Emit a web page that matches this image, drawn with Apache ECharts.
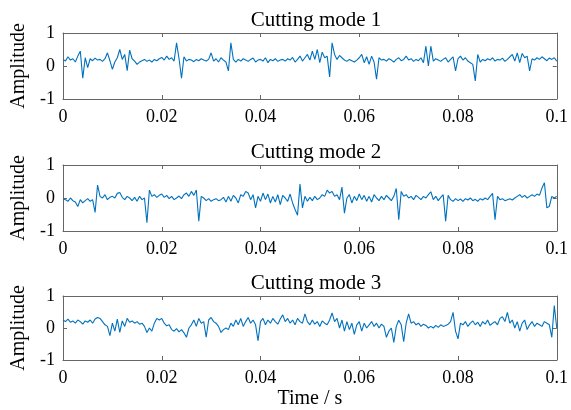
<!DOCTYPE html>
<html>
<head>
<meta charset="utf-8">
<script src="https://cdn.jsdelivr.net/npm/echarts@6/dist/echarts.min.js"></script>
<style>
  html, body { margin: 0; padding: 0; background: #fff; }
  #chart { width: 571px; height: 410px; }
</style>
</head>
<body>
<div id="chart"></div>
<script>
// sampling rate of the signals (Hz), 0.1 s per record
const fs = 2000;

const titles = ['Cutting mode 1', 'Cutting mode 2', 'Cutting mode 3'];
const xTicks = [0, 0.02, 0.04, 0.06, 0.08, 0.1];
const yTicks = [-1, 0, 1];

const mode1 = [
  0.2, 0.15, 0.28, 0.18, 0.22, 0.12, 0.3, 0.45, -0.37, 0.25,
  -0.05, 0.22, 0.16, 0.24, 0.18, 0.2, 0.14, 0.22, 0.4, 0.16,
  -0.1, 0.12, 0.25, 0.5, 0.2, 0.35, -0.14, 0.48, 0.22, 0.15,
  0.05, 0.12, 0.16, 0.2, 0.14, 0.18, 0.12, 0.2, 0.16, 0.22,
  0.26, 0.18, 0.3, 0.2, 0.25, 0.15, 0.7, 0.22, -0.37, 0.28,
  0.15, 0.2, 0.18, 0.13, 0.2, 0.16, 0.22, 0.18, 0.15, 0.2,
  0.4, 0.15, 0.22, 0.12, 0.25, 0.18, 0.12, -0.15, 0.7, 0.2,
  0.12, 0.2, 0.15, 0.22, 0.18, 0.14, 0.2, 0.24, 0.12, 0.18,
  0.2, 0.15, 0.25, 0.1, 0.2, 0.16, 0.22, 0.14, 0.18, 0.2,
  0.15, 0.22, 0.18, 0.26, 0.12, 0.2, 0.3, 0.15, 0.25, 0.35,
  0.18, 0.45, 0.2, 0.5, 0.1, 0.42, 0.25, 0.3, -0.33, 0.7,
  0.35, 0.2, 0.32, 0.25, 0.18, 0.14, 0.2, 0.16, 0.12, 0.18,
  0.25, 0.35, 0.1, 0.28, 0.05, 0.3, 0.12, -0.4, 0.25, 0.18,
  0.2, 0.15, 0.22, 0.18, 0.12, 0.2, 0.25, 0.16, 0.2, 0.3,
  0.18, 0.22, 0.14, 0.2, 0.16, 0.25, 0.1, 0.6, 0.0, 0.6,
  0.15, 0.22, 0.18, 0.14, 0.2, 0.25, 0.12, 0.2, 0.28, -0.15,
  0.22, 0.3, 0.18, 0.25, 0.15, 0.1, 0.05, -0.45, 0.35, 0.12,
  0.2, 0.16, 0.22, 0.18, 0.25, 0.15, 0.2, 0.18, 0.24, 0.14,
  0.2, 0.28, 0.35, 0.15, 0.4, 0.1, 0.38, 0.25, 0.3, -0.15,
  0.22, 0.18, 0.25, 0.2, 0.28, 0.22, 0.16, 0.24, 0.2, 0.25,
  0.15
];

const mode2 = [
  -0.02, -0.05, -0.1, 0.0, -0.08, -0.12, -0.26, -0.05, -0.15, -0.08,
  -0.02, -0.1, -0.05, -0.44, 0.39, 0.05, 0.0, 0.1, -0.05, 0.02,
  0.05, 0.0, 0.14, 0.17, 0.02, -0.05, 0.05, 0.0, -0.08, 0.02,
  -0.1, 0.05, -0.05, 0.0, -0.75, 0.24, 0.05, 0.1, 0.02, 0.08,
  0.12, 0.02, 0.08, -0.02, 0.05, -0.05, 0.0, 0.06, -0.02, 0.1,
  0.15, 0.05, 0.2, 0.08, 0.24, -0.7, 0.05, 0.0, -0.08, -0.02,
  -0.1, -0.05, -0.02, -0.08, -0.05, 0.02, -0.12, 0.05, -0.1, 0.08,
  0.0, -0.15, 0.1, 0.05, 0.2, 0.15, -0.05, 0.1, -0.3, 0.05,
  -0.1, 0.15, -0.05, 0.12, -0.15, 0.05, -0.12, 0.1, -0.2, 0.08,
  0.0, -0.1, 0.12, -0.15, -0.35, -0.52, 0.42, -0.3, 0.05, -0.1,
  0.02, -0.08, 0.05, -0.05, 0.0, 0.1, 0.05, 0.24, 0.15, 0.2,
  0.05, 0.1, -0.05, 0.33, -0.46, 0.0, 0.1, -0.15, 0.05, -0.08,
  0.12, -0.05, 0.08, -0.1, 0.05, -0.12, 0.1, 0.0, -0.08, 0.05,
  -0.05, 0.08, 0.0, -0.08, 0.05, 0.29, -0.66, 0.2, 0.05, 0.1,
  0.0, 0.05, -0.05, 0.08, 0.02, -0.05, 0.05, 0.0, 0.1, 0.19,
  -0.05, 0.05, -0.08, 0.02, 0.1, -0.7, 0.08, -0.05, -0.1, -0.02,
  -0.08, -0.03, -0.1, -0.02, -0.06, 0.0, -0.08, -0.04, -0.1, -0.02,
  -0.06, 0.0, -0.05, 0.05, 0.14, -0.66, 0.05, -0.05, -0.02, -0.08,
  -0.05, -0.02, -0.06, 0.0, 0.05, 0.1, 0.02, 0.08, 0.0, 0.05,
  0.1, 0.05, 0.12, 0.08, 0.3, 0.46, -0.3, -0.25, 0.05, 0.0,
  0.05
];

const mode3 = [
  0.25, 0.2, 0.28, 0.18, 0.22, 0.15, 0.25, 0.2, 0.12, 0.22,
  0.18, 0.25, 0.15, 0.28, 0.33, 0.3, 0.2, 0.1, 0.05, -0.24,
  0.15, -0.1, 0.28, -0.14, 0.22, 0.05, 0.3, 0.18, 0.22, 0.15,
  0.2, 0.12, 0.15, 0.05, -0.14, 0.0, -0.1, 0.15, 0.3, 0.25,
  0.3, 0.15, 0.07, 0.1, -0.05, -0.1, -0.02, -0.12, -0.05, -0.15,
  -0.29, 0.0, 0.1, 0.25, 0.05, 0.3, 0.15, 0.2, -0.29, 0.25,
  0.33, 0.2, 0.15, 0.05, -0.14, -0.05, 0.0, -0.05, 0.15, 0.05,
  0.25, 0.1, 0.3, 0.05, 0.2, 0.33, 0.15, 0.25, 0.1, -0.4,
  0.2, 0.3, 0.1, 0.25, 0.15, 0.3, 0.2, 0.12, 0.28, 0.41,
  0.2, 0.3, 0.15, 0.25, 0.1, 0.3, 0.2, 0.15, 0.44, 0.2,
  0.1, 0.25, 0.12, 0.2, 0.05, 0.22, 0.15, 0.1, 0.25, 0.47,
  0.2, 0.3, 0.0, 0.25, -0.1, 0.2, -0.05, 0.15, -0.2, 0.1,
  0.2, -0.1, 0.15, 0.0, 0.1, 0.2, 0.05, 0.15, 0.0, 0.12,
  0.05, -0.29, -0.1, 0.0, -0.45, 0.05, 0.24, 0.1, -0.43, 0.15,
  0.44, 0.15, 0.2, 0.1, 0.15, 0.05, 0.12, 0.08, 0.0, 0.05,
  0.0, 0.08, 0.02, 0.1, 0.05, 0.08, 0.12, 0.2, 0.49, -0.1,
  -0.34, 0.15, 0.1, 0.2, 0.05, 0.15, 0.22, 0.1, 0.18, 0.05,
  0.2, 0.12, 0.25, 0.08, 0.15, 0.2, 0.1, 0.3, 0.35, 0.2,
  0.49, 0.15, 0.25, 0.0, 0.2, -0.1, 0.15, 0.25, -0.05, 0.1,
  0.2, 0.05, 0.15, 0.1, 0.05, 0.2, 0.15, 0.1, -0.29, 0.7,
  0.0
];

const signals = [mode1, mode2, mode3];

const FONT = 'Liberation Serif';
const AXIS_COLOR = '#666';
const LINE_COLOR = '#0072BD';
const gridTops = [33, 165, 296];
const gridH = 66;

const chart = echarts.init(document.getElementById('chart'));

const grid = [], xAxis = [], yAxis = [], series = [], title = [];

signals.forEach((sig, k) => {
  grid.push({ left: 63, right: 12, top: gridTops[k], height: gridH });

  title.push({
    text: titles[k],
    left: 311, top: gridTops[k] - 28,
    textAlign: 'center',
    textStyle: { fontFamily: FONT, fontSize: 21, fontWeight: 'normal', color: '#000' }
  });

  const line = { show: true, onZero: false, lineStyle: { color: AXIS_COLOR, width: 1 } };
  const ticks = { show: true, inside: true, length: 4, lineStyle: { color: AXIS_COLOR } };

  // bottom x axis with labels
  xAxis.push({
    type: 'value', gridIndex: k, position: 'bottom',
    min: xTicks[0], max: xTicks[xTicks.length - 1], interval: 0.02,
    axisLine: line, axisTick: ticks, splitLine: { show: false },
    axisLabel: {
      fontFamily: FONT, fontSize: 18, color: '#000', margin: 9,
      formatter: v => String(+v.toFixed(2))
    },
    name: k === 2 ? 'Time / s' : '',
    nameLocation: 'middle', nameGap: 29,
    nameTextStyle: { fontFamily: FONT, fontSize: 20, color: '#000' }
  });
  // top x axis, ticks only
  xAxis.push({
    type: 'value', gridIndex: k, position: 'top',
    min: xTicks[0], max: xTicks[xTicks.length - 1], interval: 0.02,
    axisLine: line, axisTick: ticks, axisLabel: { show: false }, splitLine: { show: false }
  });
  // left y axis with labels
  yAxis.push({
    type: 'value', gridIndex: k, position: 'left',
    min: yTicks[0], max: yTicks[yTicks.length - 1], interval: 1,
    axisLine: line, axisTick: ticks, splitLine: { show: false },
    axisLabel: { fontFamily: FONT, fontSize: 18, color: '#000', margin: 8 },
    name: 'Amplitude', nameLocation: 'middle', nameGap: 20,
    nameTextStyle: { fontFamily: FONT, fontSize: 20, color: '#000' }
  });
  // right y axis, ticks only
  yAxis.push({
    type: 'value', gridIndex: k, position: 'right',
    min: yTicks[0], max: yTicks[yTicks.length - 1], interval: 1,
    axisLine: line, axisTick: ticks, axisLabel: { show: false }, splitLine: { show: false }
  });

  series.push({
    type: 'line',
    xAxisIndex: k * 2, yAxisIndex: k * 2,
    data: sig.map((v, i) => [i / fs, v]),
    showSymbol: false,
    lineStyle: { color: LINE_COLOR, width: 1.1 },
    itemStyle: { color: LINE_COLOR }
  });
});

chart.setOption({
  animation: false,
  backgroundColor: '#fff',
  title, grid, xAxis, yAxis, series
});
</script>
</body>
</html>
